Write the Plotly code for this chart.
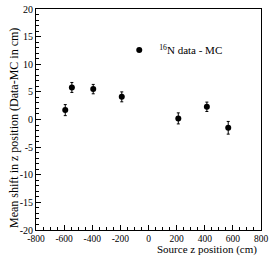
import plotly.graph_objects as go

z_pos = [-592, -545, -393, -190, 212, 415, 567]
shift = [1.7, 5.8, 5.5, 4.1, 0.2, 2.3, -1.5]
err = [1.0, 0.9, 0.85, 0.9, 1.0, 0.85, 1.15]
x_ticks = [-800, -600, -400, -200, 0, 200, 400, 600, 800]
y_ticks = [-20, -15, -10, -5, 0, 5, 10, 15, 20]
x_title = "Source z position (cm)"
y_title = "Mean shift in z position (Data-MC in cm)"

font = "Liberation Serif, Times New Roman, serif"

fig = go.Figure()
fig.add_trace(go.Scatter(
    x=z_pos, y=shift, mode="markers",
    name="<sup>16</sup>N data - MC",
    marker=dict(color="black", size=6, symbol="circle"),
    error_y=dict(type="data", array=err, color="black", thickness=1, width=1.5),
))

fig.update_layout(
    width=271, height=258,
    margin=dict(l=36, r=9, t=3, b=28),
    paper_bgcolor="white", plot_bgcolor="white",
    font=dict(family=font, size=10, color="black"),
    showlegend=True,
    legend=dict(x=0.37, y=0.815, xanchor="left", yanchor="middle",
                bgcolor="rgba(0,0,0,0)", font=dict(family=font, size=11),
                itemwidth=30, tracegroupgap=0),
    annotations=[
        dict(text=x_title, xref="paper", yref="paper", x=0.985, y=-28 / 227,
             xanchor="right", yanchor="bottom", showarrow=False,
             font=dict(family=font, size=11), borderpad=0),
        dict(text=y_title, xref="paper", yref="paper", x=-0.095, y=0.917,
             xanchor="center", yanchor="top", textangle=-90, showarrow=False,
             font=dict(family=font, size=12), borderpad=0),
    ],
)
fig.update_xaxes(
    range=[-800, 800], tickvals=x_ticks, ticktext=[str(v) for v in x_ticks],
    showgrid=False, zeroline=False, showline=True, linecolor="black", linewidth=1,
    mirror=True, ticks="inside", ticklen=5, tickcolor="black",
    minor=dict(ticks="inside", ticklen=3, dtick=50, tickcolor="black"),
    tickfont=dict(family=font, size=9.5), ticklabeloverflow="allow",
)
fig.update_yaxes(
    range=[-20, 20], tickvals=y_ticks, ticktext=[str(v) for v in y_ticks],
    showgrid=False, zeroline=False, showline=True, linecolor="black", linewidth=1,
    mirror=True, ticks="inside", ticklen=5, tickcolor="black",
    minor=dict(ticks="inside", ticklen=3, dtick=1, tickcolor="black"),
    tickfont=dict(family=font, size=10), ticklabeloverflow="allow",
)
fig.write_html("out.html", config={"displayModeBar": False},
               post_script="document.body.style.margin='0';")
